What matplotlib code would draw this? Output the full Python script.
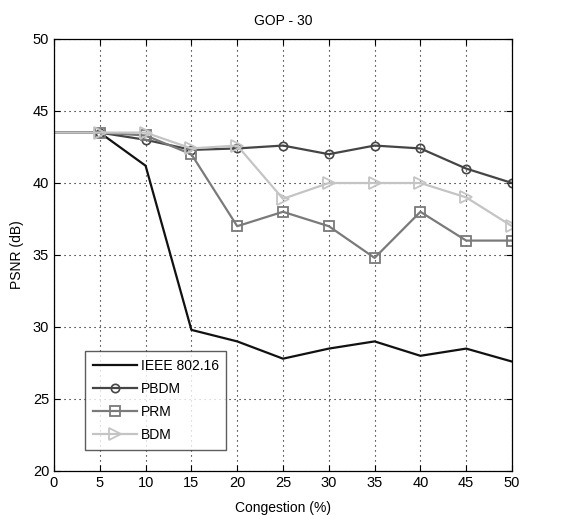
import matplotlib
matplotlib.use("Agg")
import matplotlib.pyplot as plt

plt.rcParams['font.family'] = ['Liberation Sans', 'DejaVu Sans']

congestion = [0, 5, 10, 15, 20, 25, 30, 35, 40, 45, 50]
ieee = [43.5, 43.5, 41.2, 29.8, 29.0, 27.8, 28.5, 29.0, 28.0, 28.5, 27.6]
pbdm = [43.5, 43.5, 43.0, 42.3, 42.4, 42.6, 42.0, 42.6, 42.4, 41.0, 40.0]
prm = [43.5, 43.5, 43.3, 42.0, 37.0, 38.0, 37.0, 34.8, 38.0, 36.0, 36.0]
bdm = [43.5, 43.5, 43.5, 42.4, 42.6, 38.9, 40.0, 40.0, 40.0, 39.0, 37.0]
xticks = [0, 5, 10, 15, 20, 25, 30, 35, 40, 45, 50]
yticks = [20, 25, 30, 35, 40, 45, 50]

fig = plt.figure(figsize=(5.7, 5.15), dpi=100)
ax = fig.add_axes([54/570, 1-471/515, (512-54)/570, (471-39)/515])

me = list(range(1, len(congestion)))
ax.plot(congestion, ieee, color='#111111', lw=1.6, label='IEEE 802.16')
ax.plot(congestion, pbdm, color='#454545', lw=1.6, marker='o', ms=6, mfc='none',
        mec='#454545', mew=1.2, markevery=me, label='PBDM')
ax.plot(congestion, prm, color='#7a7a7a', lw=1.6, marker='s', ms=7, mfc='none',
        mec='#7a7a7a', mew=1.3, markevery=me, label='PRM')
ax.plot(congestion, bdm, color='#c4c4c4', lw=1.6, marker='>', ms=8, mfc='none',
        mec='#c4c4c4', mew=1.3, markevery=me, label='BDM')

ax.set_xlim(0, 50)
ax.set_ylim(20, 50)
ax.set_xticks(xticks)
ax.set_yticks(yticks)
ax.grid(True, color='black', linestyle=(0, (1, 3.5)), lw=0.8)
ax.tick_params(direction='in', top=True, right=True, labelsize=10.5, length=4)
for s in ax.spines.values():
    s.set_linewidth(0.9)
ax.set_title('GOP - 30', fontsize=10, pad=10)
ax.set_xlabel('Congestion (%)', fontsize=10, labelpad=8)
ax.set_ylabel('PSNR (dB)', fontsize=10, labelpad=6)

leg = ax.legend(loc='lower left', bbox_to_anchor=(0.068, 0.049), borderaxespad=0,
                fontsize=10, frameon=True, fancybox=False, edgecolor='#333333',
                handlelength=3.2, borderpad=0.55, labelspacing=0.65, handletextpad=0.25)
leg.get_frame().set_linewidth(1.0)

fig.savefig('out.png', dpi=100)
